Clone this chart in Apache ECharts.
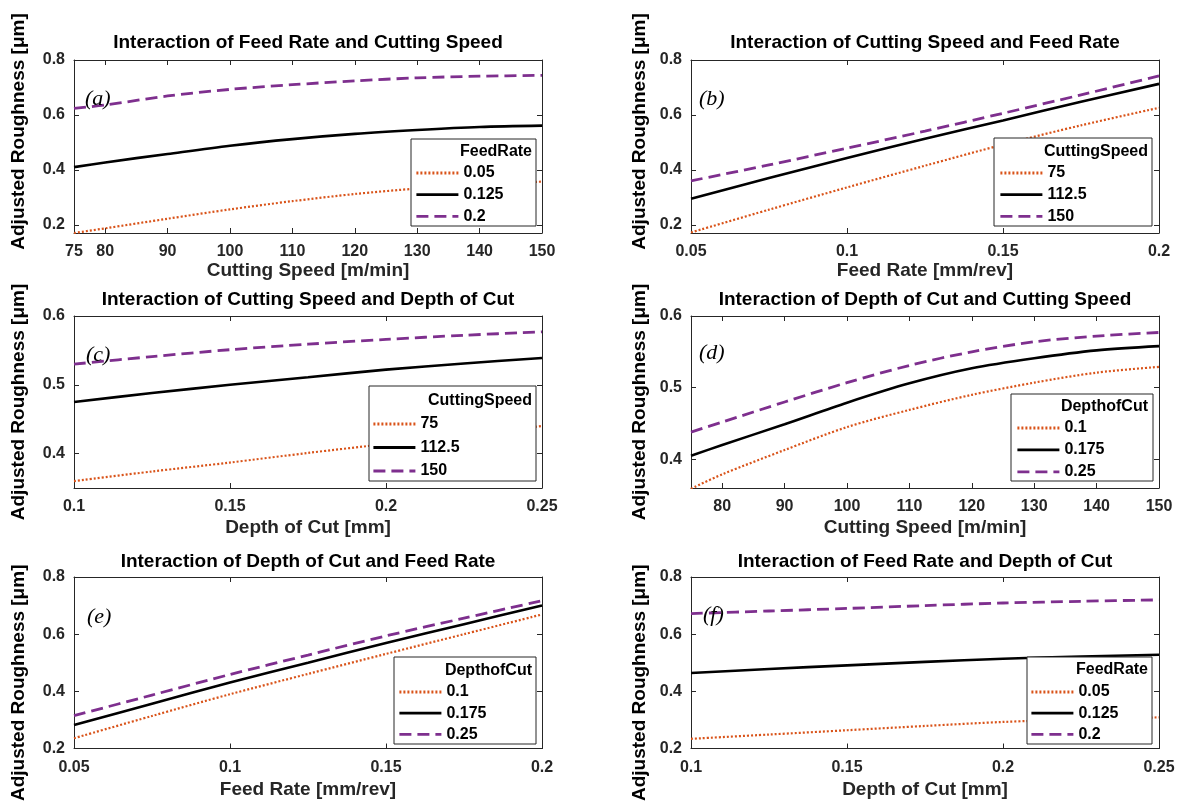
<!DOCTYPE html>
<html>
<head>
<meta charset="utf-8">
<script src="https://cdn.jsdelivr.net/npm/echarts@6/dist/echarts.min.js"></script>
<style>
  html, body { margin: 0; padding: 0; background: #fff; }
  #main { width: 1179px; height: 803px; }
</style>
</head>
<body>
<div id="main"></div>
<script>
// x positions of the read-off points
const speedX = [75, 80, 90, 100, 110, 120, 130, 140, 150];
const feedX = [0.05, 0.075, 0.1, 0.125, 0.15, 0.175, 0.2];
const depthX = [0.1, 0.125, 0.15, 0.175, 0.2, 0.225, 0.25];

// legend entries
const feedNames = ['0.05', '0.125', '0.2'];
const speedNames = ['75', '112.5', '150'];
const depthNames = ['0.1', '0.175', '0.25'];

// (a) roughness vs cutting speed, one line per feed rate
const aLow = [0.170, 0.187, 0.222, 0.256, 0.286, 0.312, 0.332, 0.347, 0.357];
const aMid = [0.410, 0.427, 0.458, 0.488, 0.512, 0.531, 0.545, 0.556, 0.561];
const aHigh = [0.624, 0.636, 0.669, 0.693, 0.710, 0.724, 0.735, 0.741, 0.744];
// (b) roughness vs feed rate, per cutting speed
const bLow = [0.172, 0.255, 0.336, 0.415, 0.492, 0.562, 0.626];
const bMid = [0.295, 0.370, 0.443, 0.513, 0.580, 0.648, 0.713];
const bHigh = [0.360, 0.418, 0.479, 0.541, 0.606, 0.673, 0.742];
// (c) roughness vs depth of cut, per cutting speed
const cLow = [0.360, 0.374, 0.387, 0.401, 0.414, 0.427, 0.440];
const cMid = [0.475, 0.488, 0.500, 0.511, 0.522, 0.531, 0.539];
const cHigh = [0.530, 0.541, 0.551, 0.559, 0.566, 0.572, 0.577];
// (d) roughness vs cutting speed, per depth of cut
const dLow = [0.359, 0.379, 0.413, 0.445, 0.469, 0.490, 0.507, 0.521, 0.529];
const dMid = [0.405, 0.420, 0.449, 0.479, 0.506, 0.527, 0.541, 0.552, 0.558];
const dHigh = [0.438, 0.452, 0.480, 0.507, 0.531, 0.550, 0.564, 0.572, 0.577];
// (e) roughness vs feed rate, per depth of cut
const eLow = [0.236, 0.314, 0.390, 0.461, 0.531, 0.600, 0.669];
const eMid = [0.282, 0.357, 0.431, 0.500, 0.569, 0.635, 0.700];
const eHigh = [0.315, 0.387, 0.459, 0.527, 0.594, 0.656, 0.717];
// (f) roughness vs depth of cut, per feed rate
const fLow = [0.234, 0.249, 0.264, 0.279, 0.293, 0.302, 0.309];
const fMid = [0.464, 0.478, 0.491, 0.503, 0.514, 0.522, 0.528];
const fHigh = [0.672, 0.681, 0.690, 0.700, 0.709, 0.715, 0.720];

// tick labels
const speedTicksA = [75, 80, 90, 100, 110, 120, 130, 140, 150];
const speedTicksD = [80, 90, 100, 110, 120, 130, 140, 150];
const feedTicks = [0.05, 0.1, 0.15, 0.2];
const depthTicks = [0.1, 0.15, 0.2, 0.25];
const roughTicks = [0.2, 0.4, 0.6, 0.8];
const roughTicksMid = [0.4, 0.5, 0.6];

const FONT = 'Liberation Sans';
const AX = '#262626';
const lineStyles = [
  { color: '#D95319', width: 2.2, type: [2, 2] },
  { color: '#000000', width: 2.6, type: 'solid' },
  { color: '#7E2F8E', width: 2.8, type: [12, 6] }
];

const panels = [
  { tag: '(a)', title: 'Interaction of Feed Rate and Cutting Speed', xName: 'Cutting Speed [m/min]',
    xs: speedX, ys: [aLow, aMid, aHigh], names: feedNames, legendTitle: 'FeedRate',
    xMin: 75, xMax: 150, xTicks: speedTicksA, yMin: 0.17, yMax: 0.8, yTicks: roughTicks,
    grid: [74, 60, 468, 173], titleY: 43, tagXY: [85, 99], xGap: 28, yShift: 15,
    box: [411, 139, 125, 87], leg: [415, 165, 7.5], legTitle: [532, 152] },
  { tag: '(b)', title: 'Interaction of Cutting Speed and Feed Rate', xName: 'Feed Rate [mm/rev]',
    xs: feedX, ys: [bLow, bMid, bHigh], names: speedNames, legendTitle: 'CuttingSpeed',
    xMin: 0.05, xMax: 0.2, xTicks: feedTicks, yMin: 0.17, yMax: 0.8, yTicks: roughTicks,
    grid: [691, 60, 468, 173], titleY: 43, tagXY: [699, 99], xGap: 28, yShift: 15,
    box: [994, 138, 158, 88], leg: [999, 165, 7.5], legTitle: [1148, 152] },
  { tag: '(c)', title: 'Interaction of Cutting Speed and Depth of Cut', xName: 'Depth of Cut [mm]',
    xs: depthX, ys: [cLow, cMid, cHigh], names: speedNames, legendTitle: 'CuttingSpeed',
    xMin: 0.1, xMax: 0.25, xTicks: depthTicks, yMin: 0.35, yMax: 0.6, yTicks: roughTicksMid,
    grid: [74, 316, 468, 172], titleY: 300, tagXY: [86, 355], xGap: 30, yShift: 0,
    box: [369, 386, 167, 95], leg: [372, 416, 9.3], legTitle: [532, 401] },
  { tag: '(d)', title: 'Interaction of Depth of Cut and Cutting Speed', xName: 'Cutting Speed [m/min]',
    xs: speedX, ys: [dLow, dMid, dHigh], names: depthNames, legendTitle: 'DepthofCut',
    xMin: 75, xMax: 150, xTicks: speedTicksD, yMin: 0.36, yMax: 0.6, yTicks: roughTicksMid,
    grid: [691, 316, 468, 172], titleY: 300, tagXY: [699, 353], xGap: 30, yShift: 0,
    box: [1011, 394, 142, 87], leg: [1016, 420, 7.7], legTitle: [1148, 407] },
  { tag: '(e)', title: 'Interaction of Depth of Cut and Feed Rate', xName: 'Feed Rate [mm/rev]',
    xs: feedX, ys: [eLow, eMid, eHigh], names: depthNames, legendTitle: 'DepthofCut',
    xMin: 0.05, xMax: 0.2, xTicks: feedTicks, yMin: 0.2, yMax: 0.8, yTicks: roughTicks,
    grid: [74, 577, 468, 174], titleY: 562, tagXY: [87, 617], xGap: 32, yShift: -20,
    box: [394, 657, 142, 87], leg: [398, 684, 7], legTitle: [532, 671] },
  { tag: '(f)', title: 'Interaction of Feed Rate and Depth of Cut', xName: 'Depth of Cut [mm]',
    xs: depthX, ys: [fLow, fMid, fHigh], names: feedNames, legendTitle: 'FeedRate',
    xMin: 0.1, xMax: 0.25, xTicks: depthTicks, yMin: 0.2, yMax: 0.8, yTicks: roughTicks,
    grid: [691, 577, 468, 174], titleY: 562, tagXY: [703, 615], xGap: 32, yShift: -20,
    box: [1027, 657, 125, 87], leg: [1030, 684, 7], legTitle: [1148, 670] }
];

const fmt = v => String(+(+v).toFixed(3));
const boldText = size => ({ fontFamily: FONT, fontWeight: 'bold', fontSize: size, color: AX });

const grid = [], xAxis = [], yAxis = [], series = [], legend = [], title = [], graphic = [];

panels.forEach((p, i) => {
  const [gl, gt, gw, gh] = p.grid;
  grid.push({ left: gl, top: gt, width: gw, height: gh, containLabel: false });

  const axLine = { show: true, onZero: false, lineStyle: { color: AX, width: 1 } };
  const tick = vals => ({ show: true, inside: true, length: 5, customValues: vals, lineStyle: { color: AX } });

  xAxis.push({
    gridIndex: i, type: 'value', position: 'bottom', min: p.xMin, max: p.xMax,
    axisLine: axLine, axisTick: tick(p.xTicks), splitLine: { show: false },
    axisLabel: { customValues: p.xTicks, formatter: fmt, margin: 11, ...boldText(16) },
    name: p.xName, nameLocation: 'middle', nameGap: p.xGap, nameTextStyle: boldText(19)
  });
  xAxis.push({
    gridIndex: i, type: 'value', position: 'top', min: p.xMin, max: p.xMax,
    axisLine: axLine, axisTick: tick(p.xTicks), splitLine: { show: false }, axisLabel: { show: false }
  });

  const padY = p.yShift > 0 ? [0, 0, 0, 2 * p.yShift] : [0, -2 * p.yShift, 0, 0];
  yAxis.push({
    gridIndex: i, type: 'value', position: 'left', min: p.yMin, max: p.yMax,
    axisLine: axLine, axisTick: tick(p.yTicks), splitLine: { show: false },
    axisLabel: { customValues: p.yTicks, formatter: fmt, margin: 9, ...boldText(16) },
    name: 'Adjusted Roughness [μm]', nameLocation: 'middle', nameGap: i % 2 === 0 ? 46 : 42,
    nameTextStyle: { ...boldText(19), color: '#000', padding: padY }
  });
  yAxis.push({
    gridIndex: i, type: 'value', position: 'right', min: p.yMin, max: p.yMax,
    axisLine: axLine, axisTick: tick(p.yTicks), splitLine: { show: false }, axisLabel: { show: false }
  });

  p.ys.forEach((ys, k) => {
    series.push({
      type: 'line', name: p.names[k], xAxisIndex: 2 * i, yAxisIndex: 2 * i,
      data: p.xs.map((x, j) => [x, ys[j]]),
      symbol: 'none', showSymbol: false, smooth: 0.3, z: 2,
      lineStyle: lineStyles[k], itemStyle: { color: lineStyles[k].color }
    });
  });

  // legend gap trimmed so rows sit 21-23 px apart as in the figure
  legend.push({
    orient: 'vertical', left: p.leg[0], top: p.leg[1], itemGap: p.leg[2] - 1.8, padding: 0,
    itemWidth: 42, itemHeight: 14, selectedMode: false, z: 5,
    itemStyle: { opacity: 0 },
    lineStyle: { width: 2.8 },
    data: p.names,
    textStyle: { fontFamily: FONT, fontWeight: 'bold', fontSize: 16, color: '#000', lineHeight: 14 }
  });

  graphic.push({
    type: 'rect', z: 3,
    shape: { x: p.box[0], y: p.box[1], width: p.box[2], height: p.box[3] },
    style: { fill: '#fff', stroke: AX, lineWidth: 1 }
  });

  title.push({
    text: p.title, left: gl + gw / 2, top: p.titleY, padding: 0,
    textAlign: 'center', textVerticalAlign: 'middle',
    textStyle: { ...boldText(19), color: '#000' }
  });
  title.push({
    text: p.legendTitle, left: p.legTitle[0], top: p.legTitle[1], padding: 0, z: 6,
    textAlign: 'right', textVerticalAlign: 'middle',
    textStyle: { fontFamily: FONT, fontWeight: 'bold', fontSize: 16, color: '#000' }
  });
  title.push({
    text: p.tag, left: p.tagXY[0], top: p.tagXY[1], padding: 0,
    textAlign: 'left', textVerticalAlign: 'middle',
    textStyle: { fontFamily: 'Liberation Serif', fontStyle: 'italic', fontWeight: 'normal', fontSize: 22, color: '#000' }
  });
});

const chart = echarts.init(document.getElementById('main'), null, { renderer: 'canvas' });
chart.setOption({
  backgroundColor: '#fff',
  animation: false,
  grid, xAxis, yAxis, series, legend, title, graphic
});
</script>
</body>
</html>
